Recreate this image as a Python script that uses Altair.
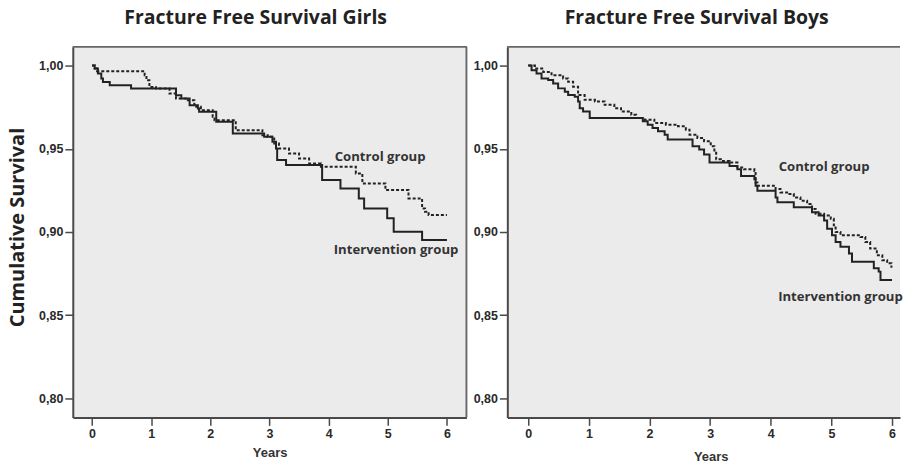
import altair as alt
import pandas as pd

# ---- data (years, cumulative survival) ----
girls_int_t = [0, 0.045, 0.10, 0.157, 0.185, 0.30, 0.66, 1.42, 1.51, 1.65, 1.79, 1.81, 2.10, 2.38, 2.91, 3.05, 3.11, 3.13, 3.28, 3.89, 4.20, 4.51, 4.60, 4.99, 5.10, 5.58, 6.0]
girls_int_s = [1.0, 0.9982, 0.9952, 0.9922, 0.9902, 0.9882, 0.9862, 0.9822, 0.9802, 0.9762, 0.9742, 0.9722, 0.9662, 0.9592, 0.9572, 0.9542, 0.9502, 0.9432, 0.9402, 0.9312, 0.9262, 0.9202, 0.9142, 0.9082, 0.9002, 0.8952, 0.8952]

girls_ctl_t = [0, 0.045, 0.084, 0.89, 0.92, 0.97, 1.08, 1.31, 1.42, 1.62, 1.73, 1.84, 2.04, 2.07, 2.43, 2.88, 2.97, 3.08, 3.16, 3.33, 3.50, 3.67, 3.87, 4.46, 4.57, 4.96, 5.35, 5.58, 5.63, 5.69, 6.0]
girls_ctl_s = [1.0, 0.9982, 0.9966, 0.9942, 0.9912, 0.9872, 0.9862, 0.9832, 0.9802, 0.9792, 0.9752, 0.9732, 0.9692, 0.9672, 0.9612, 0.9582, 0.9572, 0.9532, 0.9502, 0.9472, 0.9442, 0.9412, 0.9392, 0.9352, 0.9292, 0.9252, 0.9202, 0.9142, 0.9122, 0.9102, 0.9102]

boys_int_t = [0, 0.055, 0.137, 0.219, 0.329, 0.411, 0.493, 0.603, 0.658, 0.767, 0.822, 0.849, 0.904, 1.014, 1.89, 1.97, 2.05, 2.14, 2.25, 2.30, 2.71, 2.82, 2.90, 2.99, 3.32, 3.45, 3.51, 3.73, 3.75, 3.78, 4.08, 4.11, 4.38, 4.68, 4.79, 4.88, 4.93, 5.01, 5.07, 5.15, 5.29, 5.34, 5.70, 5.78, 5.81, 6.0]
boys_int_s = [1.0, 0.9972, 0.9952, 0.9923, 0.9913, 0.9893, 0.9863, 0.9843, 0.9823, 0.9813, 0.9784, 0.9744, 0.9724, 0.9685, 0.9665, 0.9645, 0.9625, 0.9605, 0.9585, 0.9556, 0.9516, 0.9496, 0.9466, 0.9417, 0.9397, 0.9377, 0.9337, 0.9317, 0.9278, 0.9248, 0.9208, 0.9179, 0.9149, 0.9119, 0.9099, 0.9069, 0.9020, 0.8980, 0.8940, 0.8911, 0.8871, 0.8821, 0.8782, 0.8762, 0.8712, 0.8712]

boys_ctl_t = [0, 0.11, 0.247, 0.384, 0.575, 0.658, 0.74, 0.822, 0.93, 1.10, 1.26, 1.42, 1.53, 1.70, 1.78, 1.92, 2.08, 2.27, 2.47, 2.60, 2.66, 2.79, 2.90, 3.01, 3.07, 3.10, 3.18, 3.32, 3.45, 3.56, 3.73, 3.75, 3.78, 4.08, 4.16, 4.27, 4.38, 4.49, 4.60, 4.68, 4.74, 4.88, 4.99, 5.04, 5.07, 5.15, 5.48, 5.56, 5.64, 5.75, 5.84, 5.92, 5.99]
boys_ctl_s = [1.0, 0.9982, 0.9962, 0.9942, 0.9923, 0.9903, 0.9873, 0.9823, 0.9794, 0.9784, 0.9764, 0.9744, 0.9724, 0.9704, 0.9685, 0.9675, 0.9655, 0.9645, 0.9635, 0.9615, 0.9585, 0.9565, 0.9546, 0.9516, 0.9476, 0.9437, 0.9427, 0.9417, 0.9387, 0.9377, 0.9367, 0.9298, 0.9278, 0.9258, 0.9238, 0.9228, 0.9208, 0.9188, 0.9169, 0.9139, 0.9109, 0.9099, 0.9079, 0.9040, 0.9000, 0.8980, 0.8970, 0.8940, 0.8901, 0.8861, 0.8831, 0.8812, 0.8786]

groups = ["Control group", "Intervention group"]
girls_label_t = [4.87, 5.14]
girls_label_s = [0.9449, 0.8892]
boys_label_t = [4.88, 5.15]
boys_label_s = [0.9389, 0.8611]

y_ticks = [0.80, 0.85, 0.90, 0.95, 1.00]
x_ticks = [0, 1, 2, 3, 4, 5, 6]

INK = "#222222"
AXIS = "#4a4a4a"
TFONT = "Open Sans"


def curves(ctl_t, ctl_s, int_t, int_s):
    rows = [{"t": t, "S": s, "group": "Control"} for t, s in zip(ctl_t, ctl_s)]
    rows += [{"t": t, "S": s, "group": "Intervention"} for t, s in zip(int_t, int_s)]
    return pd.DataFrame(rows)


def panel(df, lab_t, lab_s, title, title_dx, xdom, width, height, ytitle,
          xtitle_x, xtitle_y, right_border):
    xs = alt.Scale(domain=xdom, nice=False, zero=False)
    ys = alt.Scale(domain=[0.78862, 1.01138], nice=False, zero=False)

    yaxis_kwargs = dict(
        values=y_ticks,
        labelExpr="replace(format(datum.value, '.2f'), '.', ',')",
        grid=False, tickSize=8, tickColor=AXIS, tickWidth=1.5,
        domainColor=AXIS, domainWidth=2,
        labelFont="Liberation Sans", labelFontWeight="bold", labelFontSize=12.5,
        labelColor="#2a2a2a", labelPadding=2,
    )
    if ytitle:
        yaxis_kwargs.update(
            titleFont=TFONT, titleFontSize=20, titleFontWeight="bold",
            titleColor=INK, titleX=-55, titleY=181, titleAngle=270,
            titleAlign="center", titleBaseline="middle",
        )
    yenc = alt.Y("S:Q", scale=ys, axis=alt.Axis(**yaxis_kwargs),
                 title=("Cumulative Survival" if ytitle else None))

    xenc = alt.X(
        "t:Q", scale=xs, title="Years",
        axis=alt.Axis(
            values=x_ticks, format="d", labelAngle=0, grid=False,
            tickSize=8, tickColor=AXIS, tickWidth=1.5,
            domainColor=AXIS, domainWidth=2,
            labelFont="Liberation Sans", labelFontWeight="bold", labelFontSize=12.5,
            labelColor="#2a2a2a", labelPadding=2,
            titleFont="Liberation Sans", titleFontWeight="bold", titleFontSize=13,
            titleColor="#333333", titleX=xtitle_x, titleY=xtitle_y,
            titleBaseline="middle", titleAlign="center",
        ),
    )

    lines = alt.Chart(df).mark_line(interpolate="step-after", strokeWidth=2, color=INK).encode(
        x=xenc, y=yenc,
        strokeDash=alt.StrokeDash(
            "group:N",
            scale=alt.Scale(domain=["Control", "Intervention"], range=[[3, 2], [1, 0]]),
            legend=None,
        ),
    )

    labdf = pd.DataFrame({"t": lab_t, "S": lab_s, "label": groups})
    labels = alt.Chart(labdf).mark_text(
        font=TFONT, fontWeight="bold", fontSize=13.2, color="#333333",
        align="center", baseline="middle",
    ).encode(x=alt.X("t:Q", scale=xs), y=alt.Y("S:Q", scale=ys), text="label:N")

    top = alt.Chart(labdf).mark_rule(color="#666666", strokeWidth=1.5).encode(
        x=alt.value(0), x2=alt.value(width), y=alt.value(0)
    )
    layers = [lines, labels, top]
    if right_border:
        rb = alt.Chart(labdf).mark_rule(color="#666666", strokeWidth=1.5).encode(
            x=alt.value(width), y=alt.value(0), y2=alt.value(height)
        )
        layers.append(rb)

    return alt.layer(*layers).properties(
        width=width, height=height,
        title=alt.TitleParams(
            text=title, font=TFONT, fontSize=19.5, fontWeight="bold", color=INK,
            anchor="middle", frame="group", dx=title_dx, offset=2,
            baseline="alphabetic",
        ),
    )


girls = panel(curves(girls_ctl_t, girls_ctl_s, girls_int_t, girls_int_s),
              girls_label_t, girls_label_s, "Fracture Free Survival Girls", -14,
              [-0.325, 6.33], 395, 372, True, 197.5, 35, True)
boys = panel(curves(boys_ctl_t, boys_ctl_s, boys_int_t, boys_int_s),
             boys_label_t, boys_label_s, "Fracture Free Survival Boys", -7,
             [-0.345, 6.132], 394, 372, False, 204, 39, False)

chart = alt.hconcat(girls, boys, spacing=41, bounds="flush").properties(
    autosize=alt.AutoSizeParams(type="pad"),
    padding={"left": 0, "top": -1, "right": 0, "bottom": 0},
    background="white",
).configure_view(fill="#ebebeb", stroke=None)

chart.save("out.html", embed_options={"renderer": "svg", "actions": False})
